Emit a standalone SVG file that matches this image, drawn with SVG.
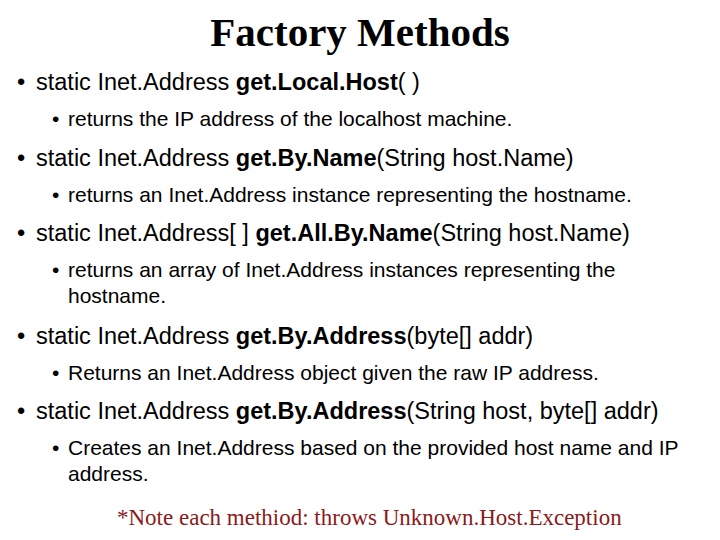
<svg xmlns="http://www.w3.org/2000/svg" width="720" height="540" viewBox="0 0 720 540">
<style>
.t{font-family:"Liberation Serif",serif;font-weight:bold;font-size:41px;fill:#000}
.l1{font-family:"Liberation Sans",Arial,sans-serif;font-size:23.5px;fill:#000}
.l2{font-family:"Liberation Sans",Arial,sans-serif;font-size:21px;fill:#000}
.b{font-weight:bold}
.n{font-family:"Liberation Serif",serif;font-size:23px;fill:#8B1A1A}
</style>
<rect width="720" height="540" fill="#fff"/>
<text class="t" x="360" y="46" text-anchor="middle">Factory Methods</text>
<g class="l1">
<text x="17" y="90">•</text><text x="36" y="90">static Inet.Address <tspan class="b">get.Local.Host</tspan>( )</text>
<text x="17" y="166">•</text><text x="36" y="166">static Inet.Address <tspan class="b">get.By.Name</tspan>(String host.Name)</text>
<text x="17" y="241">•</text><text x="36" y="241">static Inet.Address[ ] <tspan class="b">get.All.By.Name</tspan>(String host.Name)</text>
<text x="17" y="344">•</text><text x="36" y="344">static Inet.Address <tspan class="b">get.By.Address</tspan>(byte[] addr)</text>
<text x="17" y="419">•</text><text x="36" y="419">static Inet.Address <tspan class="b">get.By.Address</tspan>(String host, byte[] addr)</text>
</g>
<g class="l2">
<text x="52" y="126">•</text><text x="68" y="126">returns the IP address of the localhost machine.</text>
<text x="52" y="202">•</text><text x="68" y="202">returns an Inet.Address instance representing the hostname.</text>
<text x="52" y="277">•</text><text x="68" y="277">returns an array of Inet.Address instances representing the</text>
<text x="68" y="303">hostname.</text>
<text x="52" y="380">•</text><text x="68" y="380">Returns an Inet.Address object given the raw IP address.</text>
<text x="52" y="455">•</text><text x="68" y="455">Creates an Inet.Address based on the provided host name and IP</text>
<text x="68" y="481">address.</text>
</g>
<text class="n" x="117" y="525">*Note each methiod: throws Unknown.Host.Exception</text>
</svg>
